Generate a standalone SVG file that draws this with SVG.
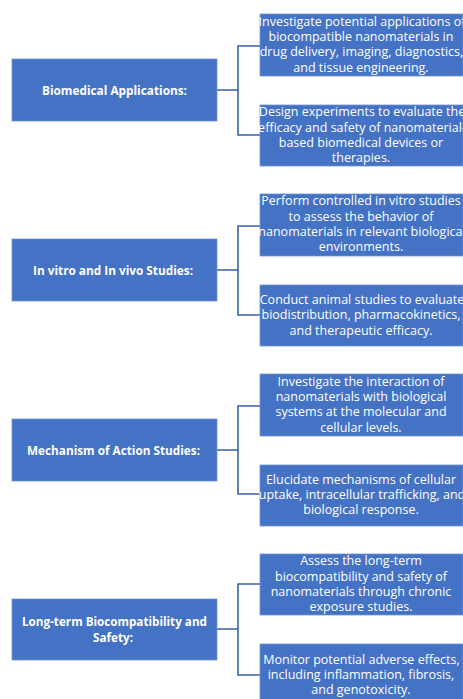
<svg xmlns="http://www.w3.org/2000/svg" width="463" height="699" viewBox="0 0 463 699">
<style>
.box{fill:#4472C4;stroke:#7393D3;stroke-width:0.8}
.t{fill:#FFFFFF;font-family:"Open Sans","Noto Sans","Liberation Sans",sans-serif;font-size:12.5px;text-anchor:middle}
.b{font-weight:bold}
.c{fill:none;stroke:#3A62A8;stroke-width:1.6}
</style>
<rect width="463" height="699" fill="#FFFFFF"/>
<g id="connectors">
<path class="c" d="M217 90H238M260 46H238V135H260"/>
<path class="c" d="M217 270H238M260 226H238V315H260"/>
<path class="c" d="M217 450H238M260 406H238V494H260"/>
<path class="c" d="M217 629H238M260 584H238V675H260"/>
</g>
<g id="n1">
<rect class="box" x="12" y="59" width="205" height="62"/>
<text class="t b" x="114.5" y="94.5" textLength="145" lengthAdjust="spacingAndGlyphs">Biomedical Applications:</text>
</g>
<g id="n1a">
<rect class="box" x="260" y="14" width="203" height="62"/>
<text class="t" x="362" y="25.8">Investigate potential applications of</text>
<text class="t" x="361" y="41.1">biocompatible nanomaterials in</text>
<text class="t" x="361.5" y="56.4">drug delivery, imaging, diagnostics,</text>
<text class="t" x="361" y="71.7">and tissue engineering.</text>
</g>
<g id="n1b">
<rect class="box" x="260" y="105" width="203" height="61"/>
<text class="t" x="362" y="116.3">Design experiments to evaluate the</text>
<text class="t" x="362" y="131.6">efficacy and safety of nanomaterial-</text>
<text class="t" x="361" y="146.9">based biomedical devices or</text>
<text class="t" x="361" y="162.2">therapies.</text>
</g>
<g id="n2">
<rect class="box" x="12" y="239" width="205" height="62"/>
<text class="t b" x="113" y="274.5" textLength="160" lengthAdjust="spacingAndGlyphs">In vitro and In vivo Studies:</text>
</g>
<g id="n2a">
<rect class="box" x="260" y="194" width="203" height="62"/>
<text class="t" x="361" y="205.3">Perform controlled in vitro studies</text>
<text class="t" x="361" y="220.6">to assess the behavior of</text>
<text class="t" x="362" y="235.9">nanomaterials in relevant biological</text>
<text class="t" x="361" y="251.2">environments.</text>
</g>
<g id="n2b">
<rect class="box" x="260" y="285" width="203" height="61"/>
<text class="t" x="362" y="304">Conduct animal studies to evaluate</text>
<text class="t" x="361" y="319.3">biodistribution, pharmacokinetics,</text>
<text class="t" x="361" y="334.6">and therapeutic efficacy.</text>
</g>
<g id="n3">
<rect class="box" x="12" y="419" width="205" height="62"/>
<text class="t b" x="113.5" y="454.5" textLength="173" lengthAdjust="spacingAndGlyphs">Mechanism of Action Studies:</text>
</g>
<g id="n3a">
<rect class="box" x="260" y="374" width="203" height="62"/>
<text class="t" x="361" y="385.8">Investigate the interaction of</text>
<text class="t" x="361" y="401.1">nanomaterials with biological</text>
<text class="t" x="361" y="416.4">systems at the molecular and</text>
<text class="t" x="361" y="431.7">cellular levels.</text>
</g>
<g id="n3b">
<rect class="box" x="260" y="465" width="203" height="61"/>
<text class="t" x="361" y="483.5">Elucidate mechanisms of cellular</text>
<text class="t" x="362" y="498.8">uptake, intracellular trafficking, and</text>
<text class="t" x="361" y="514.1">biological response.</text>
</g>
<g id="n4">
<rect class="box" x="12" y="599" width="205" height="61"/>
<text class="t b" x="114.5" y="626.3" textLength="185" lengthAdjust="spacingAndGlyphs">Long-term Biocompatibility and</text>
<text class="t b" x="113" y="641.6" textLength="40" lengthAdjust="spacingAndGlyphs">Safety:</text>
</g>
<g id="n4a">
<rect class="box" x="260" y="554" width="203" height="61"/>
<text class="t" x="361" y="565.3">Assess the long-term</text>
<text class="t" x="361" y="580.6">biocompatibility and safety of</text>
<text class="t" x="361" y="595.9">nanomaterials through chronic</text>
<text class="t" x="361" y="611.2">exposure studies.</text>
</g>
<g id="n4b">
<rect class="box" x="260" y="644" width="203" height="62"/>
<text class="t" x="361.5" y="663.5">Monitor potential adverse effects,</text>
<text class="t" x="361" y="678.8">including inflammation, fibrosis,</text>
<text class="t" x="361" y="694.1">and genotoxicity.</text>
</g>
</svg>
